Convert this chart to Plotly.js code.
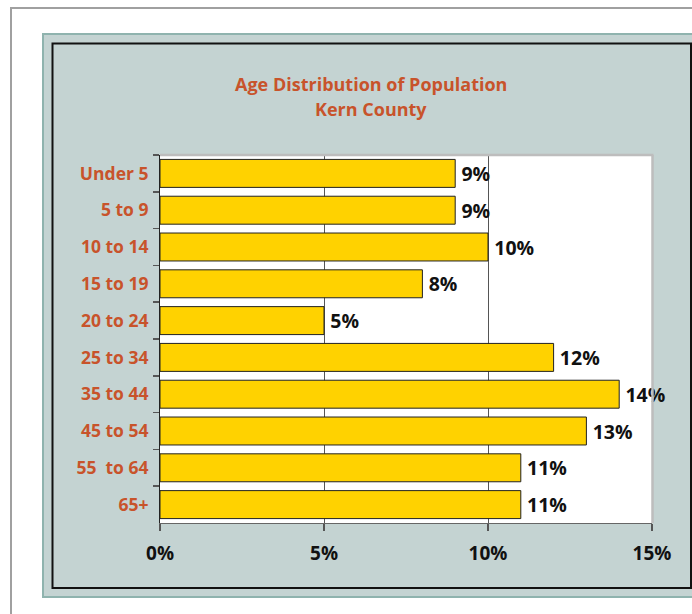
<!DOCTYPE html>
<html>
<head>
<meta charset="utf-8">
<script src="https://cdn.plot.ly/plotly-3.0.1.min.js"></script>
<style>html,body{margin:0;padding:0;background:#fff;}#chart{width:692px;height:614px;}</style>
</head>
<body>
<div id="chart"></div>
<script>
// Data
const ageGroups = ["Under 5", "5 to 9", "10 to 14", "15 to 19", "20 to 24", "25 to 34", "35 to 44", "45 to 54", "55\u00a0 to 64", "65+"];
const sharePct = [9, 9, 10, 8, 5, 12, 14, 13, 11, 11];
const xTickVals = [0, 5, 10, 15];
const xTickText = ["0%", "5%", "10%", "15%"];
const titleLines = ["Age Distribution of Population", "Kern County"];

// Plot area in pixels: x 160..652, y 155..523
const L = 160, R = 652, T = 155, B = 523, W = 692, H = 614;
const pw = R - L, ph = B - T;
const px = v => (v - L) / pw;
const py = v => (B - v) / ph;

const orange = "#C8532B";
const fontFam = "'Open Sans', Lato, sans-serif";

const trace = {
  type: "bar",
  orientation: "h",
  y: ageGroups,
  x: sharePct,
  width: 0.76,
  marker: {color: "#FFD200", line: {color: "#222222", width: 1}},
  text: sharePct.map(v => "\u2009" + v + "%"),
  textposition: "outside",
  constraintext: "none",
  cliponaxis: false,
  textfont: {family: fontFam, size: 19.5, color: "#111111", weight: 700},
  hoverinfo: "none"
};

const layout = {
  width: W, height: H,
  margin: {l: L, r: W - R, t: T, b: H - B, pad: 0},
  paper_bgcolor: "#ffffff",
  plot_bgcolor: "rgba(0,0,0,0)",
  showlegend: false,
  bargap: 0.24,
  xaxis: {
    range: [0, 15],
    tickvals: xTickVals,
    ticktext: xTickText,
    showgrid: true,
    gridcolor: "#555555",
    gridwidth: 1,
    zeroline: false,
    showline: true,
    linecolor: "#666666",
    linewidth: 1,
    ticks: "outside",
    ticklen: 7,
    tickcolor: "#555555",
    tickwidth: 1.5,
    ticklabelstandoff: 6,
    tickfont: {family: fontFam, size: 19, color: "#111111", weight: 700},
    fixedrange: true
  },
  yaxis: {
    type: "category",
    autorange: "reversed",
    tickson: "boundaries",
    showgrid: false,
    zeroline: false,
    showline: true,
    linecolor: "#222222",
    linewidth: 1,
    ticks: "outside",
    ticklen: 6,
    tickcolor: "#555555",
    tickwidth: 1.5,
    ticklabelstandoff: 7,
    tickfont: {family: fontFam, size: 17.5, color: orange, weight: 700},
    fixedrange: true
  },
  shapes: [
    // outer gray frame
    {type: "rect", xref: "paper", yref: "paper", layer: "below",
     x0: px(11), x1: px(760), y0: py(680), y1: py(8),
     line: {color: "#a0a0a0", width: 2}, fillcolor: "#ffffff"},
    // teal panel
    {type: "rect", xref: "paper", yref: "paper", layer: "below",
     x0: px(43), x1: px(760), y0: py(597), y1: py(34),
     line: {color: "#8FB3AE", width: 2}, fillcolor: "#C4D3D2"},
    // black frame
    {type: "rect", xref: "paper", yref: "paper", layer: "below",
     x0: px(52.5), x1: px(691), y0: py(588), y1: py(43.5),
     line: {color: "#111111", width: 2}, fillcolor: "#C4D3D2"},
    // plot area white
    {type: "rect", xref: "paper", yref: "paper", layer: "below",
     x0: 0, x1: 1, y0: 0, y1: 1,
     line: {width: 0}, fillcolor: "#ffffff"},
    // top border
    {type: "line", xref: "paper", yref: "paper", layer: "above",
     x0: 0, x1: px(653.5), y0: py(155), y1: py(155),
     line: {color: "#bdbdbd", width: 2.5}},
    // right border
    {type: "line", xref: "paper", yref: "paper", layer: "above",
     x0: px(652.5), x1: px(652.5), y0: 0, y1: py(155),
     line: {color: "#bdbdbd", width: 2.5}}
  ],
  annotations: [
    {xref: "paper", yref: "paper", x: px(371), y: py(84), text: titleLines[0],
     showarrow: false, xanchor: "center", yanchor: "middle",
     font: {family: fontFam, size: 18, color: orange, weight: 700}},
    {xref: "paper", yref: "paper", x: px(371), y: py(109), text: titleLines[1],
     showarrow: false, xanchor: "center", yanchor: "middle",
     font: {family: fontFam, size: 18, color: orange, weight: 700}}
  ]
};

Plotly.newPlot("chart", [trace], layout, {displayModeBar: false, staticPlot: true});
</script>
</body>
</html>
